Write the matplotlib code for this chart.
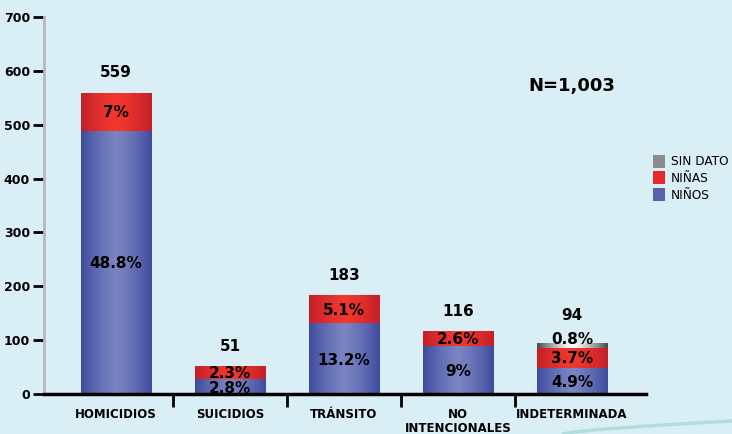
import matplotlib.pyplot as plt
import numpy as np
from matplotlib.colors import LinearSegmentedColormap
from matplotlib.patches import Patch

# ---------------- data ----------------
categorias = ["HOMICIDIOS", "SUICIDIOS", "TRÁNSITO", "NO\nINTENCIONALES", "INDETERMINADA"]
ninos = [489, 28, 132, 90, 49]
ninas = [70, 23, 51, 26, 37]
sin_dato = [0, 0, 0, 0, 8]
totales = [559, 51, 183, 116, 94]
pct_ninos = ["48.8%", "2.8%", "13.2%", "9%", "4.9%"]
pct_ninas = ["7%", "2.3%", "5.1%", "2.6%", "3.7%"]
pct_sin_dato = ["", "", "", "", "0.8%"]
total_n = "N=1,003"

bg = "#daeef5"

# gradient colormaps (edge -> center)
cm_blue = LinearSegmentedColormap.from_list("b", ["#3f4c9e", "#7a84c2"])
cm_red = LinearSegmentedColormap.from_list("r", ["#c41f28", "#f2382e"])
cm_gray = LinearSegmentedColormap.from_list("g", ["#4a4a4a", "#ffffff"])

t = np.linspace(0, 1, 200)
grad = (1 - np.abs(2 * t - 1) ** 1.3)[None, :]

fig = plt.figure(figsize=(7.32, 4.34), dpi=100, facecolor=bg)
ax = fig.add_axes([0.060, 0.0922, 0.8225, 0.8686], facecolor=bg)

x = np.arange(len(categorias))
w = 0.62


def gradient_bar(xc, bottom, height, cmap):
    if height <= 0:
        return
    ax.imshow(grad, extent=[xc - w / 2, xc + w / 2, bottom, bottom + height],
              aspect="auto", cmap=cmap, vmin=0, vmax=1, zorder=2,
              interpolation="bilinear")


pfont = dict(ha="center", va="center", fontsize=11, fontweight="bold", color="black", zorder=5)

for i in x:
    b = 0
    gradient_bar(i, b, ninos[i], cm_blue)
    ax.text(i, b + ninos[i] / 2 - 3, pct_ninos[i], **pfont)
    b += ninos[i]
    gradient_bar(i, b, ninas[i], cm_red)
    ax.text(i, b + ninas[i] / 2 - 2, pct_ninas[i], **pfont)
    b += ninas[i]
    gradient_bar(i, b, sin_dato[i], cm_gray)
    if pct_sin_dato[i]:
        ax.text(i, b + sin_dato[i] + 7, pct_sin_dato[i], **pfont)
    off = 20 if pct_sin_dato[i] else 14.5
    ax.annotate(str(totales[i]), (i, totales[i]), xytext=(0, off), textcoords="offset points",
                ha="center", va="center", fontsize=11, fontweight="bold")

ax.text(4.0, 571, total_n, ha="center", va="center", fontsize=13, fontweight="bold")

ax.set_xlim(-0.632, 4.65)
ax.set_ylim(0, 700)
ax.set_yticks(range(0, 701, 100))
ax.set_xticks(x)
ax.set_xticklabels(categorias, fontsize=8.5, fontweight="bold", linespacing=1.15)
ax.set_xticks(x[:-1] + 0.5, minor=True)
ax.tick_params(axis="x", which="major", length=0, pad=10)
ax.tick_params(axis="x", which="minor", length=9, width=2, color="black", direction="out")
ax.tick_params(axis="y", length=8, width=2, color="black", direction="out", pad=2)
for lab in ax.get_yticklabels():
    lab.set_fontweight("bold")
    lab.set_fontsize(9)

for s in ["top", "right"]:
    ax.spines[s].set_visible(False)
ax.spines["left"].set_color("#b4b8bf")
ax.spines["left"].set_linewidth(2)
ax.spines["bottom"].set_color("black")
ax.spines["bottom"].set_linewidth(2.5)
ax.spines["bottom"].set_zorder(6)

handles = [Patch(facecolor="#8c8c8c", label="SIN DATO"),
           Patch(facecolor="#e8282a", label="NIÑAS"),
           Patch(facecolor="#5862ac", label="NIÑOS")]
fig.legend(handles=handles, loc="upper left", bbox_to_anchor=(0.885, 0.655), frameon=False,
           fontsize=8.7, handlelength=1.0, handleheight=1.3, handletextpad=0.5,
           labelspacing=0.25, borderaxespad=0)

# decorative swoosh bottom-right
xs = np.linspace(0.77, 1.0, 50)
fig.add_artist(plt.Line2D(xs, 0.0 + 0.03 * ((xs - 0.77) / 0.23) ** 0.7, transform=fig.transFigure,
                          color="#a6dad6", lw=2.5, alpha=0.8))

fig.savefig("out.png", dpi=100, facecolor=bg)
